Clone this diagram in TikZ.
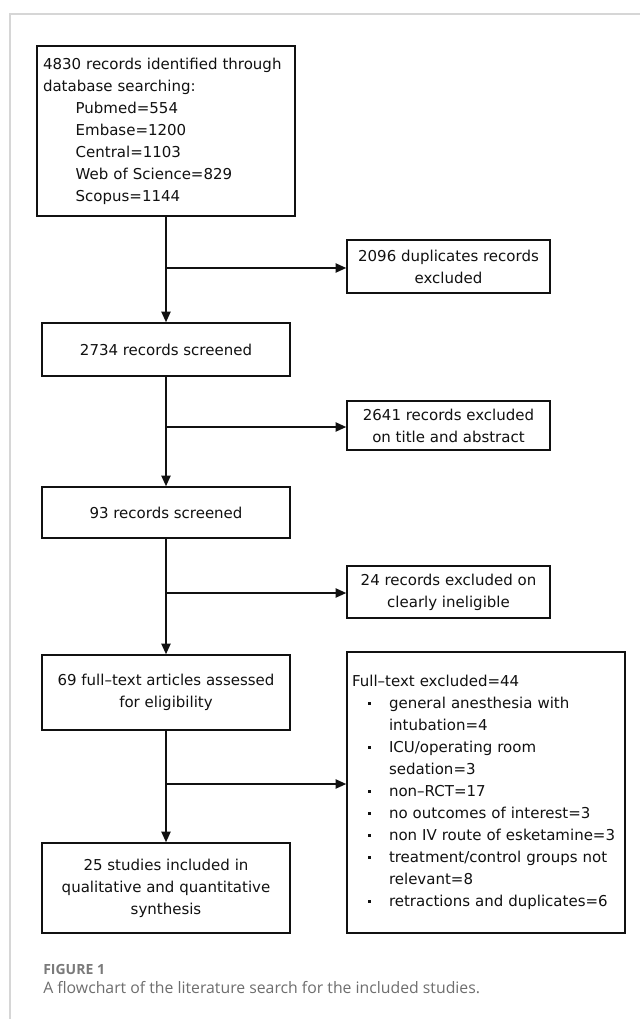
\documentclass[tikz,border=0pt]{standalone}
\usepackage{fontspec}
\setmainfont{DejaVu Sans}
\newfontfamily\capfont{Open Sans}
\usetikzlibrary{arrows.meta}
\definecolor{framegray}{HTML}{D6D6D6}
\definecolor{capgray}{HTML}{6E6E6E}
\definecolor{figgray}{HTML}{7A7A7A}
\definecolor{inkc}{HTML}{111111}
\newcommand{\bitem}{\hspace*{12pt}\makebox[15.75pt][l]{\raisebox{2.8pt}{\rule{2.2pt}{2.2pt}}}}
\newcommand{\bcont}{\hspace*{27.75pt}}
\begin{document}
\begin{tikzpicture}[x=0.75pt,y=-0.75pt,
  box/.style={draw=inkc,line width=1.2pt,rectangle,align=center,text=inkc,
    font=\fontsize{11.25pt}{16.5pt}\selectfont,inner sep=0pt},
  conn/.style={draw=inkc,line width=1.1pt},
  arr/.style={conn,-{Triangle[length=8pt,width=7pt]}},
  captext/.style={anchor=base west,inner sep=0pt,text=capgray}]
\useasboundingbox (0,0) rectangle (640,1019);
\fill[white] (0,0) rectangle (640,1019);
\draw[framegray,line width=0.9pt] (10,1019) -- (10,14) -- (640,14);

% left column
\node[box,minimum width=193.5pt,minimum height=127.5pt,align=left,
      text width=184.5pt] (top) at (166,131)
 {4830 records identified through\\
  database searching:\\
  \hspace*{24.5pt}Pubmed=554\\
  \hspace*{24.5pt}Embase=1200\\
  \hspace*{24.5pt}Central=1103\\
  \hspace*{24.5pt}Web of Science=829\\
  \hspace*{24.5pt}Scopus=1144};
\node[box,minimum width=186pt,minimum height=39.75pt] (s2734) at (166,349.5) {2734 records screened};
\node[box,minimum width=186pt,minimum height=38.25pt] (s93) at (166,512.5) {93 records screened};
\node[box,minimum width=186pt,minimum height=56.25pt] (s69) at (166,692.5) {69 full–text articles assessed\\for eligibility};
\node[box,minimum width=186pt,minimum height=67.5pt] (s25) at (166,888) {25 studies included in\\qualitative and quantitative\\synthesis};

% right column
\node[box,minimum width=152.25pt,minimum height=39.75pt] (r1) at (448.5,266.5) {2096 duplicates records\\excluded};
\node[box,minimum width=152.25pt,minimum height=36.75pt] (r2) at (448.5,425.5) {2641 records excluded\\on title and abstract};
\node[box,minimum width=152.25pt,minimum height=39pt] (r3) at (448.5,592) {24 records excluded on\\clearly ineligible};
\node[box,minimum width=208.5pt,minimum height=210.75pt,align=left,
      text width=201pt] (rf) at (486,792.5)
 {Full–text excluded=44\\
  \bitem general anesthesia with\\
  \bcont intubation=4\\
  \bitem ICU/operating room\\
  \bcont sedation=3\\
  \bitem non–RCT=17\\
  \bitem no outcomes of interest=3\\
  \bitem non IV route of esketamine=3\\
  \bitem treatment/control groups not\\
  \bcont relevant=8\\
  \bitem retractions and duplicates=6};

% junctions
\coordinate (j1) at (166,268);
\coordinate (j2) at (166,427);
\coordinate (j3) at (166,593);
\coordinate (j4) at (166,784);

\draw[arr] (top.south) -- (s2734.north);
\draw[arr] (s2734.south) -- (s93.north);
\draw[arr] (s93.south) -- (s69.north);
\draw[arr] (s69.south) -- (s25.north);
\draw[arr] (j1) -- (j1 -| r1.west);
\draw[arr] (j2) -- (j2 -| r2.west);
\draw[arr] (j3) -- (j3 -| r3.west);
\draw[arr] (j4) -- (j4 -| rf.west);

% caption
\node[captext,text=figgray,font=\capfont\bfseries\fontsize{10.5pt}{12pt}\selectfont] (fig) at (43,974) {FIGURE 1};
\node[captext,font=\capfont\fontsize{11.85pt}{14pt}\selectfont] (cap) at (43,993) {A flowchart of the literature search for the included studies.};
\end{tikzpicture}
\end{document}
